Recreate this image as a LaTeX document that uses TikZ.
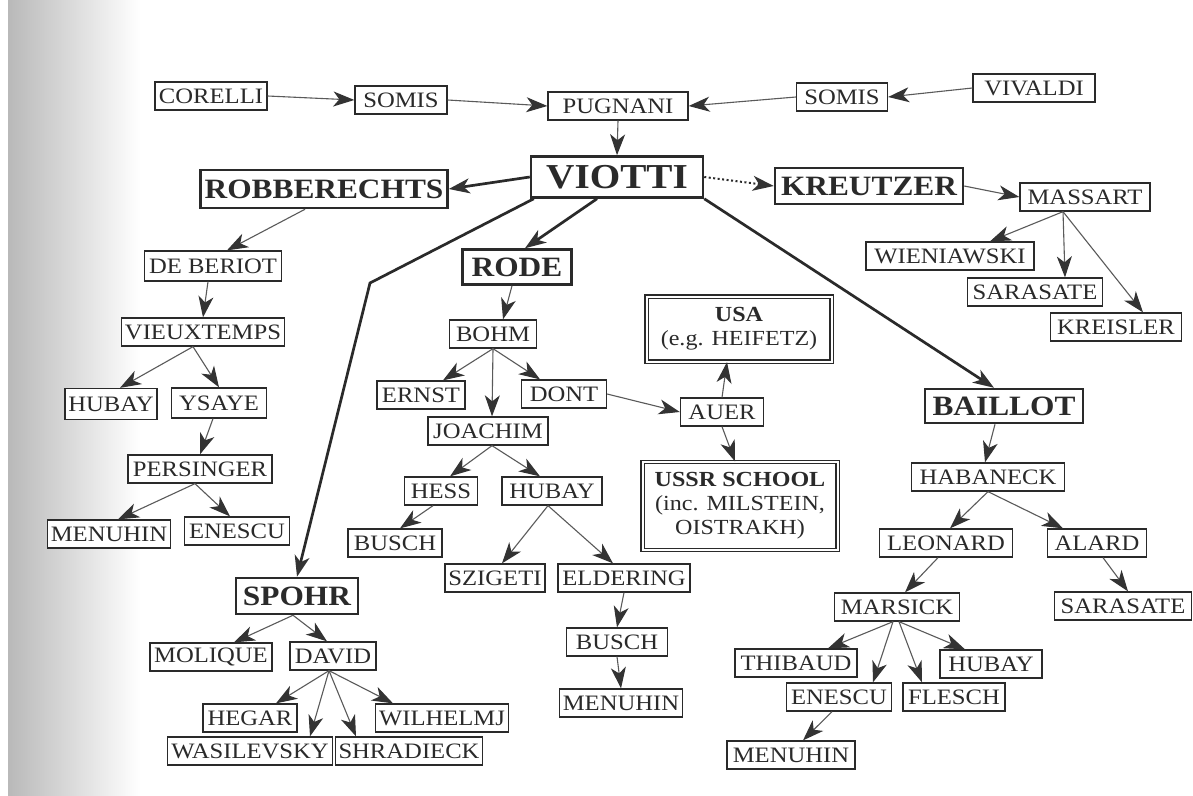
\documentclass[tikz,border=0pt]{standalone}
\usepackage{fontspec}
\setmainfont{Liberation Serif}[FakeStretch=1.12]
\usetikzlibrary{arrows.meta,calc}
\definecolor{ink}{HTML}{2A2A2A}
\definecolor{lineink}{HTML}{5A5A5A}
\definecolor{tipink}{HTML}{333333}
\begin{document}
\begin{tikzpicture}[x=1pt,y=-1pt,
  nm/.style={draw=ink, line width=1.3pt, text=ink, font=\fontsize{22}{24}\selectfont, minimum height=28pt, inner xsep=3pt, inner ysep=2pt, fill=white},
  bd/.style={nm, line width=2.5pt, font=\fontsize{28}{30}\selectfont\bfseries, minimum height=36pt},
  dbl/.style={draw=ink, double, double distance=2pt, line width=1.2pt, text=ink, fill=white, font=\fontsize{21.5}{24}\selectfont, align=center, inner sep=3pt},
  arr/.style={draw=lineink, line width=1.1pt, -{Stealth[length=21pt,width=15pt,inset=6pt,color=tipink]}},
  heavy/.style={arr, line width=2.7pt, draw=ink},
]
\useasboundingbox (0,0) rectangle (1193,795);
\fill[white] (0,0) rectangle (1193,795);
\shade[left color=gray!55, right color=white] (8,0) rectangle (140,795);

% top row
\node[nm, minimum width=112pt] (corelli) at (211,96) {CORELLI};
\node[nm, minimum width=92pt] (somisa) at (401,100) {SOMIS};
\node[nm, minimum width=140pt] (pugnani) at (618,106) {PUGNANI};
\node[nm, minimum width=91pt] (somisb) at (842,97) {SOMIS};
\node[nm, minimum width=122pt] (vivaldi) at (1034,88) {VIVALDI};
\node[bd, minimum width=172pt, minimum height=41pt, font=\fontsize{35}{37}\selectfont\bfseries] (viotti) at (617,177) {VIOTTI};
\node[bd, minimum width=247pt, minimum height=38pt] (robb) at (324,189) {ROBBERECHTS};
\node[bd, minimum width=188pt] (kreutzer) at (869,186) {KREUTZER};
\node[nm, minimum width=130pt] (massart) at (1085,197) {MASSART};
\node[nm, minimum width=168pt] (wien) at (950,256) {WIENIAWSKI};
\node[nm, minimum width=135pt] (sarasatea) at (1035,292) {SARASATE};
\node[nm, minimum width=131pt] (kreisler) at (1116,327) {KREISLER};

% Robberechts branch
\node[nm, minimum width=137pt, minimum height=30pt] (deberiot) at (213,266) {DE BERIOT};
\node[nm, minimum width=163pt] (vieux) at (203,332) {VIEUXTEMPS};
\node[nm, minimum width=92pt, minimum height=31pt] (hubaya) at (111,404) {HUBAY};
\node[nm, minimum width=95pt, minimum height=30pt] (ysaye) at (219,403) {YSAYE};
\node[nm, minimum width=144pt] (persinger) at (200,469) {PERSINGER};
\node[nm, minimum width=122pt] (menuhina) at (109,534) {MENUHIN};
\node[nm, minimum width=105pt] (enescua) at (237,531) {ENESCU};

% Rode branch
\node[bd, minimum width=109pt, minimum height=35pt] (rode) at (517,267) {RODE};
\node[nm, minimum width=87pt] (bohm) at (493,334) {BOHM};
\node[nm, minimum width=88pt] (ernst) at (421,395) {ERNST};
\node[nm, minimum width=85pt] (dont) at (564,394) {DONT};
\node[nm, minimum width=120pt] (joachim) at (488,431) {JOACHIM};
\node[nm, minimum width=83pt] (auer) at (722,412) {AUER};
\node[dbl, minimum width=185pt, minimum height=65pt] (usa) at (739,329) {\textbf{USA}\\(e.g. HEIFETZ)};
\node[dbl, minimum width=195pt, minimum height=88pt] (ussr) at (740,506) {\textbf{USSR SCHOOL}\\(inc. MILSTEIN,\\OISTRAKH)};
\node[nm, minimum width=73pt] (hess) at (441,491) {HESS};
\node[nm, minimum width=100pt] (hubayb) at (552,491) {HUBAY};
\node[nm, minimum width=94pt] (buscha) at (395,543) {BUSCH};
\node[nm, minimum width=100pt] (szigeti) at (495,578) {SZIGETI};
\node[nm, minimum width=132pt] (eldering) at (624,578) {ELDERING};
\node[nm, minimum width=101pt] (buschb) at (617,642) {BUSCH};
\node[nm, minimum width=123pt] (menuhinb) at (621,703) {MENUHIN};

% Spohr branch
\node[bd, minimum width=122pt] (spohr) at (297,596) {SPOHR};
\node[nm, minimum width=122pt] (molique) at (211,657) {MOLIQUE};
\node[nm, minimum width=86pt] (david) at (333,656) {DAVID};
\node[nm, minimum width=94pt] (hegar) at (250,718) {HEGAR};
\node[nm, minimum width=133pt] (wilhelmj) at (442,718) {WILHELMJ};
\node[nm, minimum width=165pt] (wasil) at (250,751) {WASILEVSKY};
\node[nm, minimum width=140pt] (shrad) at (409,751) {SHRADIECK};

% Baillot branch
\node[bd, minimum width=158pt, minimum height=34pt] (baillot) at (1004,406) {BAILLOT};
\node[nm, minimum width=153pt] (habaneck) at (988,477) {HABANECK};
\node[nm, minimum width=133pt] (leonard) at (946,543) {LEONARD};
\node[nm, minimum width=99pt] (alard) at (1097,543) {ALARD};
\node[nm, minimum width=125pt] (marsick) at (897,607) {MARSICK};
\node[nm, minimum width=137pt] (sarasateb) at (1123,606) {SARASATE};
\node[nm, minimum width=122pt] (thibaud) at (796,663) {THIBAUD};
\node[nm, minimum width=102pt] (hubayc) at (991,664) {HUBAY};
\node[nm, minimum width=105pt] (enescub) at (839,697) {ENESCU};
\node[nm, minimum width=102pt] (flesch) at (954,697) {FLESCH};
\node[nm, minimum width=128pt] (menuhinc) at (791,755) {MENUHIN};

\coordinate (spohrbend) at (370,283);

% connectors
\draw[arr] (corelli.east) -- (somisa.west);
\draw[arr] (somisa.east) -- (pugnani.west);
\draw[arr] (vivaldi.west) -- (somisb.east);
\draw[arr] (somisb.west) -- (pugnani.east);
\draw[arr] (pugnani.south) -- (viotti.north);
\draw[heavy] (viotti.west) -- (robb.east);
\draw[arr, draw=ink, dash pattern=on 2pt off 2.5pt, line width=2pt] (viotti.east) -- (kreutzer.west);
\draw[arr] (kreutzer.east) -- (massart.west);
\draw[arr] ($(massart.south)+(-22,0)$) -- ($(wien.north)+(40,0)$);
\draw[arr] ($(massart.south)+(-22,0)$) -- ($(sarasatea.north)+(30,0)$);
\draw[arr] ($(massart.south)+(-22,0)$) -- ($(kreisler.north)+(27,0)$);

\draw[arr] ($(robb.south)+(-19,0)$) -- ($(deberiot.north)+(14,0)$);
\draw[arr] ($(deberiot.south)+(-5,0)$) -- (vieux.north);
\draw[arr] ($(vieux.south)+(-10,0)$) -- ($(hubaya.north)+(9,0)$);
\draw[arr] ($(vieux.south)+(-10,0)$) -- (ysaye.north);
\draw[arr] ($(ysaye.south)+(-6,0)$) -- (persinger.north);
\draw[arr] ($(persinger.south)+(-5,0)$) -- ($(menuhina.north)+(9,0)$);
\draw[arr] ($(persinger.south)+(-5,0)$) -- ($(enescua.north)+(-7,0)$);

\draw[heavy] ($(viotti.south)+(-20,0)$) -- ($(rode.north)+(8,0)$);
\draw[heavy] ($(viotti.south west)+(4,0)$) -- (spohrbend) -- (spohr.north);
\draw[heavy] (viotti.south east) -- ($(baillot.north)+(-10,0)$);

\draw[arr] ($(rode.south)+(-5,0)$) -- ($(bohm.north)+(10,0)$);
\draw[arr] (bohm.south) -- ($(ernst.north)+(22,0)$);
\draw[arr] (bohm.south) -- ($(joachim.north)+(4,0)$);
\draw[arr] (bohm.south) -- ($(dont.north)+(-24,0)$);
\draw[arr] (dont.east) -- (auer.west);
\draw[arr] (auer.north) -- ($(usa.south)+(-12,0)$);
\draw[arr] (auer.south) -- ($(ussr.north)+(-5,0)$);
\draw[arr] ($(joachim.south)+(4,0)$) -- ($(hess.north)+(9,0)$);
\draw[arr] ($(joachim.south)+(4,0)$) -- ($(hubayb.north)+(-12,0)$);
\draw[arr] ($(hess.south)+(-8,0)$) -- ($(buscha.north)+(5,0)$);
\draw[arr] ($(hubayb.south)+(-4,0)$) -- ($(szigeti.north)+(7,0)$);
\draw[arr] ($(hubayb.south)+(-4,0)$) -- ($(eldering.north)+(-11,0)$);
\draw[arr] (eldering.south) -- (buschb.north);
\draw[arr] (buschb.south) -- (menuhinb.north);

\draw[arr] ($(spohr.south)+(-4,0)$) -- ($(molique.north)+(23,0)$);
\draw[arr] ($(spohr.south)+(-4,0)$) -- ($(david.north)+(-6,0)$);
\draw[arr] ($(david.south)+(-4,0)$) -- ($(hegar.north)+(26,0)$);
\draw[arr] ($(david.south)+(-4,0)$) -- ($(wasil.north)+(60,0)$);
\draw[arr] ($(david.south)+(-4,0)$) -- ($(shrad.north)+(-53,0)$);
\draw[arr] ($(david.south)+(-4,0)$) -- ($(wilhelmj.north)+(-49,0)$);

\draw[arr] ($(baillot.south)+(-9,0)$) -- ($(habaneck.north)+(-3,0)$);
\draw[arr] (habaneck.south) -- ($(leonard.north)+(4,0)$);
\draw[arr] (habaneck.south) -- ($(alard.north)+(-34,0)$);
\draw[arr] ($(leonard.south)+(-8,0)$) -- ($(marsick.north)+(8,0)$);
\draw[arr] ($(alard.south)+(6,0)$) -- ($(sarasateb.north)+(5,0)$);
\draw[arr] ($(marsick.south)+(-4,0)$) -- ($(thibaud.north)+(32,0)$);
\draw[arr] ($(marsick.south)+(-4,0)$) -- ($(enescub.north)+(34,0)$);
\draw[arr] ($(marsick.south)+(2,0)$) -- ($(flesch.north)+(-32,0)$);
\draw[arr] ($(marsick.south)+(2,0)$) -- ($(hubayc.north)+(-26,0)$);
\draw[arr] ($(enescub.south)+(-7,0)$) -- ($(menuhinc.north)+(12,0)$);
\end{tikzpicture}
\end{document}
